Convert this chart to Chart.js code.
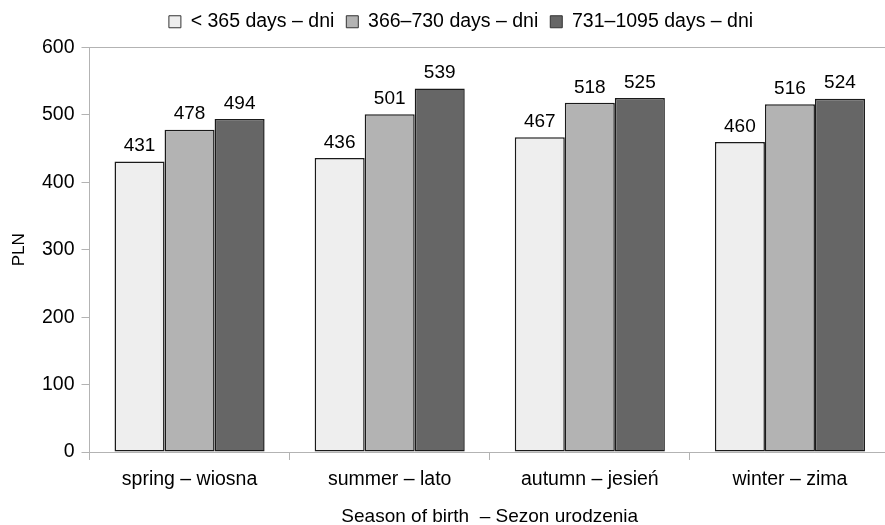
<!DOCTYPE html>
<html>
<head>
<meta charset="utf-8">
<script src="https://cdn.jsdelivr.net/npm/chart.js@4"></script>
<style>
  html, body { margin: 0; padding: 0; background: #fff; overflow: hidden; }
  #wrap { width: 890px; height: 525px; }
</style>
</head>
<body>
<div id="wrap"><canvas id="seasonChart" width="890" height="525"></canvas></div>
<script>
const seasons = ['spring – wiosna', 'summer – lato', 'autumn – jesień', 'winter – zima'];
const under365 = [431, 436, 467, 460];
const days366to730 = [478, 501, 518, 516];
const days731to1095 = [494, 539, 525, 524];
const seriesNames = ['< 365 days – dni', '366–730 days – dni', '731–1095 days – dni'];
const yTicks = [0, 100, 200, 300, 400, 500, 600];

const FONT = '"Liberation Sans", Arial, sans-serif';

// draws the number above each bar
const barValues = {
    id: 'barValues',
    afterDatasetsDraw(chart) {
        const ctx = chart.ctx;
        ctx.save();
        ctx.font = '19px ' + FONT;
        ctx.fillStyle = '#000';
        ctx.textAlign = 'center';
        ctx.textBaseline = 'bottom';
        chart.data.datasets.forEach((ds, i) => {
            chart.getDatasetMeta(i).data.forEach((bar, j) => {
                ctx.fillText(ds.data[j], bar.x, bar.y - 6);
            });
        });
        ctx.restore();
    }
};

// extra room under the legend, and nudge it a bit to the right
const legendGap = {
    id: 'legendGap',
    beforeInit(chart) {
        const fit = chart.legend.fit;
        chart.legend.fit = function () {
            fit.call(this);
            this.height += 6;
        };
    },
    afterLayout(chart) {
        chart.legend.left += 16;
        chart.legend.right += 16;
    }
};

function makeSet(label, data, color) {
    return {
        label: label,
        data: data,
        backgroundColor: color,
        borderColor: '#1a1a1a',
        borderWidth: 1.5,
        borderSkipped: false,
        categoryPercentage: 0.75,
        barPercentage: 1.0
    };
}

const ctx = document.getElementById('seasonChart').getContext('2d');
const chart = new Chart(ctx, {
    type: 'bar',
    data: {
        labels: seasons,
        datasets: [
            makeSet(seriesNames[0], under365, '#eeeeee'),
            makeSet(seriesNames[1], days366to730, '#b3b3b3'),
            makeSet(seriesNames[2], days731to1095, '#666666')
        ]
    },
    options: {
        responsive: false,
        animation: false,
        devicePixelRatio: 1,
        layout: { padding: { left: 0, right: 0, top: 0, bottom: 0 } },
        plugins: {
            legend: {
                position: 'top',
                labels: {
                    font: { family: FONT, size: 19.5 },
                    color: '#000',
                    boxWidth: 12,
                    boxHeight: 12,
                    padding: 12,
                    generateLabels(chart) {
                        return chart.data.datasets.map((ds, i) => ({
                            text: ds.label,
                            fillStyle: ds.backgroundColor,
                            strokeStyle: '#333',
                            lineWidth: 1,
                            datasetIndex: i,
                            hidden: false
                        }));
                    }
                }
            },
            tooltip: { enabled: false }
        },
        scales: {
            x: {
                afterFit(scale) {
                    scale.height = 73;
                },
                grid: {
                    offset: true,
                    color: 'rgba(0,0,0,0)',
                    tickColor: '#b3b3b3',
                    tickLength: 8,
                    lineWidth: 1
                },
                border: { color: '#b3b3b3', width: 1 },
                ticks: {
                    font: { family: FONT, size: 19.5 },
                    color: '#000',
                    padding: 8
                },
                title: {
                    display: true,
                    text: 'Season of birth  – Sezon urodzenia',
                    font: { family: FONT, size: 19, lineHeight: 1 },
                    color: '#000',
                    padding: { top: 0, bottom: -1 }
                }
            },
            y: {
                min: 0,
                max: 600,
                afterBuildTicks(scale) {
                    scale.ticks = yTicks.map(v => ({ value: v }));
                },
                afterFit(scale) {
                    scale.width = 89.5;
                },
                grid: {
                    color: c => (c.tick && c.tick.value === 600 ? '#b3b3b3' : 'rgba(0,0,0,0)'),
                    tickColor: '#b3b3b3',
                    tickLength: 8,
                    lineWidth: 1
                },
                border: { color: '#b3b3b3', width: 1 },
                ticks: {
                    font: { family: FONT, size: 19.5 },
                    color: '#000',
                    padding: 7
                },
                title: {
                    display: true,
                    text: 'PLN',
                    font: { family: FONT, size: 17 },
                    color: '#000',
                    padding: { top: 9, bottom: 0 }
                }
            }
        }
    },
    plugins: [barValues, legendGap]
});
</script>
</body>
</html>
